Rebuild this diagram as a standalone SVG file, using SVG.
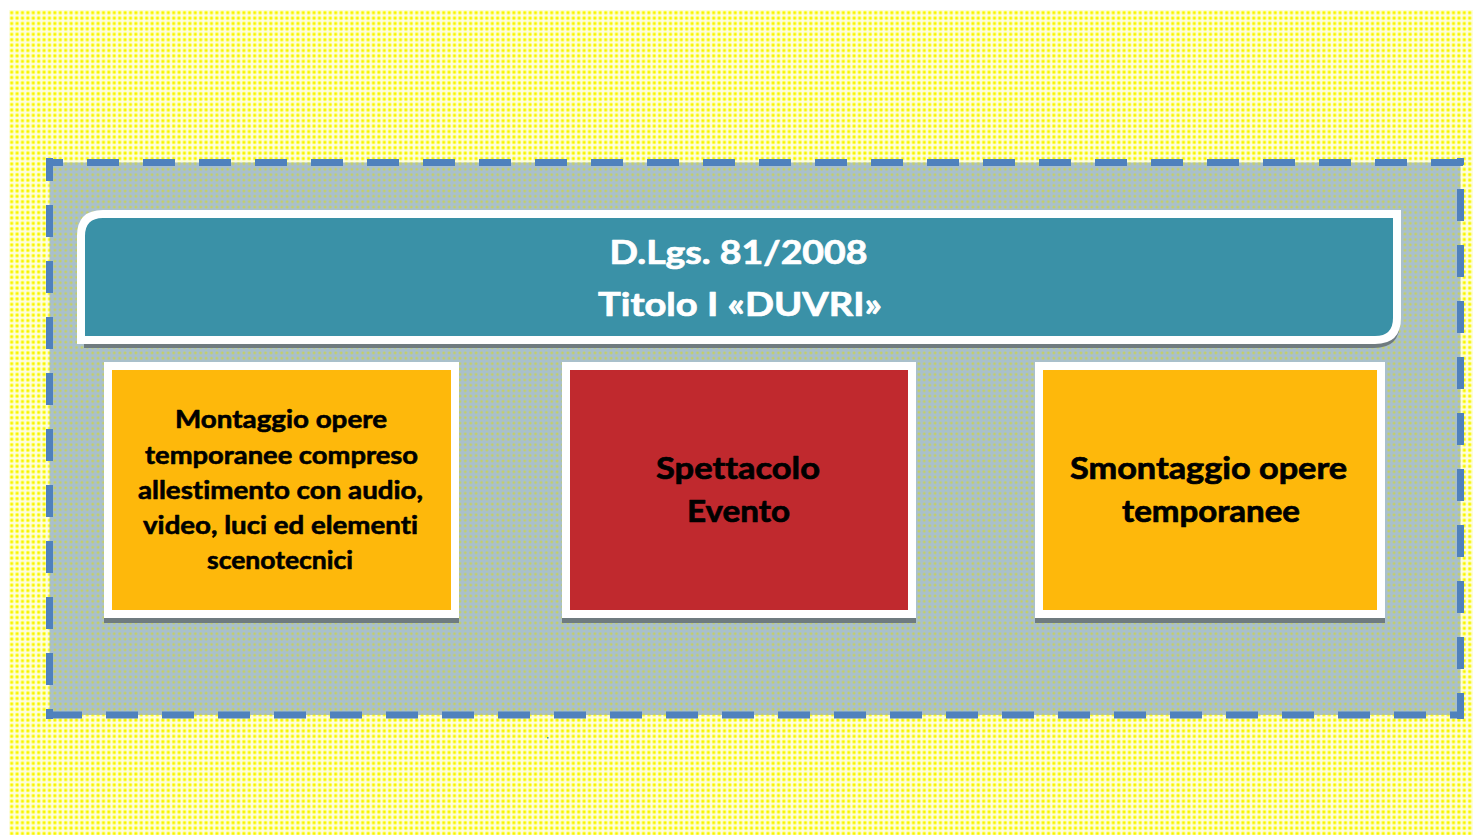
<svg xmlns="http://www.w3.org/2000/svg" width="1473" height="835" viewBox="0 0 1473 835">
  <defs>
    <pattern id="yellowDots" x="9" y="10" width="5.4" height="5.4" patternUnits="userSpaceOnUse">
      <rect width="5.4" height="5.4" fill="#fdfde0"/>
      <circle cx="2.7" cy="2.7" r="2" fill="#ffff55"/>
      <circle cx="2.7" cy="2.7" r="1.1" fill="#f6f200"/>
    </pattern>
    <pattern id="greyDots" x="9" y="10" width="5.4" height="5.4" patternUnits="userSpaceOnUse">
      <rect width="5.4" height="5.4" fill="#a9c0cc"/>
      <circle cx="2.7" cy="2.7" r="1.6" fill="#bccb84"/>
      <circle cx="2.7" cy="2.7" r="0.9" fill="#c6d060"/>
    </pattern>
    <style>
      .dash { fill: none; stroke: #4f81bd; stroke-width: 7; stroke-dasharray: 32 24; }
      .frame { stroke: #ffffff; stroke-width: 8; }
      .shadow { fill: #6f7b7f; }
      .orange { fill: #feb80b; }
      .red { fill: #c0292e; }
      .teal { fill: #3a91a7; }
      .t { font-family: "Lato", "Open Sans", "Liberation Sans", sans-serif; font-weight: 700; text-anchor: middle; stroke-linejoin: round; font-variant-ligatures: none; }
      .head { font-size: 31.5px; fill: #ffffff; stroke: #ffffff; stroke-width: 0.7px; }
      .small { font-size: 25px; fill: #000000; stroke: #000000; stroke-width: 0.6px; }
      .big { font-size: 30px; fill: #000000; stroke: #000000; stroke-width: 0.7px; }
    </style>
  </defs>

  <rect x="0" y="0" width="1473" height="835" fill="#ffffff"/>
  <rect x="9" y="10" width="1464" height="825" fill="url(#yellowDots)"/>

  <g id="container">
    <rect x="49.5" y="162.5" width="1411" height="552.5" fill="url(#greyDots)"/>
    <line class="dash" x1="46" y1="162.5" x2="1464" y2="162.5" stroke-dashoffset="15"/>
    <line class="dash" x1="46" y1="715" x2="1464" y2="715" stroke-dashoffset="52"/>
    <line class="dash" x1="49.5" y1="158" x2="49.5" y2="719" stroke-dashoffset="9"/>
    <line class="dash" x1="1460.5" y1="158" x2="1460.5" y2="719" stroke-dashoffset="25"/>
  </g>

  <g id="header">
    <path class="shadow" d="M84 218 L1400 218 L1400 322 Q1400 348 1374 348 L84 348 Z"/>
    <path class="teal frame" d="M81 236 Q81 214 103 214 L1397 214 L1397 318 Q1397 340 1375 340 L81 340 Z"/>
    <text class="t head" x="738.5" y="264" textLength="258" lengthAdjust="spacingAndGlyphs">D.Lgs. 81/2008</text>
    <text class="t head" x="740" y="316" textLength="284" lengthAdjust="spacingAndGlyphs">Titolo I «DUVRI»</text>
  </g>

  <g id="montaggio">
    <rect class="shadow" x="104" y="618" width="355" height="5"/>
    <rect class="orange frame" x="108" y="366" width="347" height="248"/>
    <text class="t small" x="281" y="428" textLength="212" lengthAdjust="spacingAndGlyphs">Montaggio opere</text>
    <text class="t small" x="281.5" y="463.5" textLength="273" lengthAdjust="spacingAndGlyphs">temporanee compreso</text>
    <text class="t small" x="280.5" y="498.5" textLength="285" lengthAdjust="spacingAndGlyphs">allestimento con audio,</text>
    <text class="t small" x="280.5" y="533.5" textLength="275" lengthAdjust="spacingAndGlyphs">video, luci ed elementi</text>
    <text class="t small" x="280" y="569" textLength="146" lengthAdjust="spacingAndGlyphs">scenotecnici</text>
  </g>

  <g id="spettacolo">
    <rect class="shadow" x="562" y="618" width="354" height="5"/>
    <rect class="red frame" x="566" y="366" width="346" height="248"/>
    <text class="t big" x="738" y="478.5" textLength="164" lengthAdjust="spacingAndGlyphs">Spettacolo</text>
    <text class="t big" x="738.5" y="522" textLength="103" lengthAdjust="spacingAndGlyphs">Evento</text>
  </g>

  <g id="smontaggio">
    <rect class="shadow" x="1035" y="618" width="350" height="5"/>
    <rect class="orange frame" x="1039" y="366" width="342" height="248"/>
    <text class="t big" x="1208.5" y="478.5" textLength="277" lengthAdjust="spacingAndGlyphs">Smontaggio opere</text>
    <text class="t big" x="1211" y="522" textLength="178" lengthAdjust="spacingAndGlyphs">temporanee</text>
  </g>

  <g id="connectors"></g>

  <rect x="547" y="737" width="1.5" height="1.5" fill="#3a91a7"/>
</svg>
